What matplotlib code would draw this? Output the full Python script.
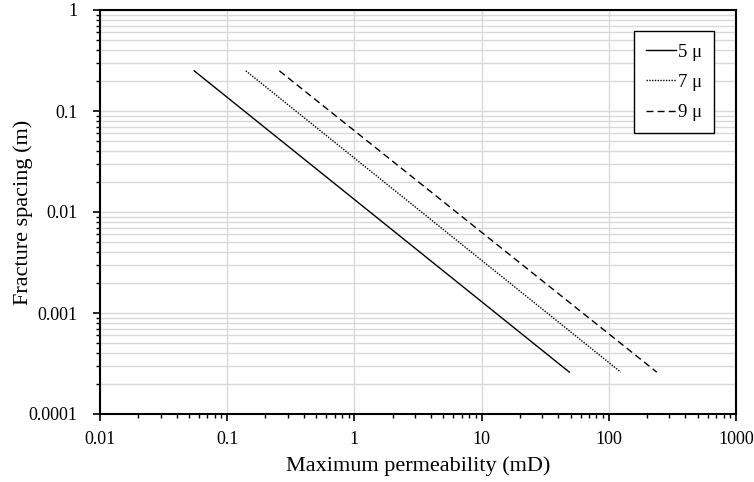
import matplotlib.pyplot as plt
from matplotlib.ticker import LogLocator, FixedLocator, NullFormatter

plt.rcParams['font.family'] = ['Liberation Serif', 'DejaVu Serif']

# endpoints (log-log straight lines)
spacing = [0.25, 0.00026]
perm_5 = [0.055, 48.9]
perm_7 = [0.14, 124]
perm_9 = [0.257, 238]
labels = ['5 \u03bc', '7 \u03bc', '9 \u03bc']
styles = ['-', (0, (1, 1)), (0, (5, 3))]

fig = plt.figure(figsize=(7.54, 4.82), dpi=100)
ax = fig.add_axes([100 / 754, 1 - 414 / 482, 636 / 754, 404 / 482])

for perm, lab, ls in zip([perm_5, perm_7, perm_9], labels, styles):
    ax.plot(perm, spacing, color='black', linestyle=ls, linewidth=1.0, label=lab)

ax.set_xscale('log')
ax.set_yscale('log')
ax.set_xlim(0.01, 1000)
ax.set_ylim(0.0001, 1)

ax.xaxis.set_major_locator(FixedLocator([0.01, 0.1, 1, 10, 100, 1000]))
ax.set_xticklabels(['0.01', '0.1', '1', '10', '100', '1000'])
ax.yaxis.set_major_locator(FixedLocator([0.0001, 0.001, 0.01, 0.1, 1]))
ax.set_yticklabels(['0.0001', '0.001', '0.01', '0.1', '1'])
ax.xaxis.set_minor_locator(LogLocator(base=10, subs=range(2, 10), numticks=20))
ax.yaxis.set_minor_locator(LogLocator(base=10, subs=range(2, 10), numticks=20))
ax.xaxis.set_minor_formatter(NullFormatter())
ax.yaxis.set_minor_formatter(NullFormatter())

ax.grid(True, which='major', axis='both', color='#d9d9d9', linewidth=1.0)
ax.grid(True, which='minor', axis='y', color='#d9d9d9', linewidth=1.0)
ax.set_axisbelow(True)

ax.tick_params(which='major', direction='out', length=5, width=1.2, labelsize=13,
               color='black')
ax.tick_params(axis='y', which='major', pad=11)
ax.tick_params(axis='x', which='major', pad=7)
ax.tick_params(which='minor', direction='out', length=3, width=1.0, color='black')
for s in ax.spines.values():
    s.set_linewidth(1.5)
    s.set_color('black')

ax.set_xlabel('Maximum permeability (mD)', fontsize=16, labelpad=6)
ax.set_ylabel('Fracture spacing (m)', fontsize=16)
ax.yaxis.set_label_coords(-67 / 636, 0.5)

leg = ax.legend(loc='upper right', bbox_to_anchor=(0.98, 0.97), fontsize=13.5,
                handlelength=1.6, handletextpad=0.1, labelspacing=0.7,
                fancybox=False, framealpha=1, edgecolor='black', borderpad=0.65)
leg.get_frame().set_linewidth(1.0)

fig.savefig('out.png', dpi=100)
